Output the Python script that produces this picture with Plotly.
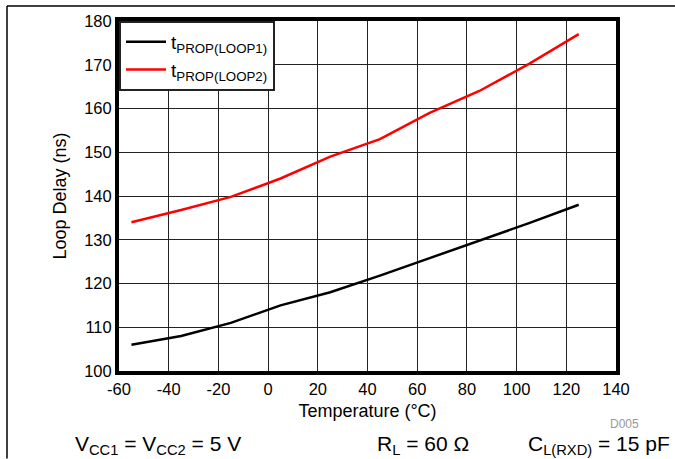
import plotly.graph_objects as go

temps = [-55, -35, -15, 5, 25, 45, 65, 85, 105, 125]
loop1 = [106, 108, 111, 115, 118, 121.8, 125.8, 129.8, 133.8, 138]
loop2 = [134, 136.8, 139.8, 144, 149, 153, 159, 164, 170.2, 177]

x_ticks = [-60, -40, -20, 0, 20, 40, 60, 80, 100, 120, 140]
y_ticks = [100, 110, 120, 130, 140, 150, 160, 170, 180]

W, H = 675, 459
L, R, T, B = 119, 59, 19, 88
pw, ph = W - L - R, H - T - B

def px(xp):
    return (xp - L) / pw

def py(yp):
    return 1 - (yp - T) / ph

font = "Liberation Sans, Arial, sans-serif"

fig = go.Figure()
fig.add_trace(go.Scatter(x=temps, y=loop1, mode="lines", name="t<sub>PROP(LOOP1)</sub>",
                         line=dict(color="black", width=2.5)))
fig.add_trace(go.Scatter(x=temps, y=loop2, mode="lines", name="t<sub>PROP(LOOP2)</sub>",
                         line=dict(color="#ff0000", width=2.5)))

fig.update_layout(
    width=W, height=H,
    margin=dict(l=L, r=R, t=T, b=B),
    paper_bgcolor="white", plot_bgcolor="white",
    font=dict(family=font, size=16, color="black"),
    showlegend=True,
    legend=dict(x=0, y=1, xanchor="left", yanchor="top",
                bgcolor="white", bordercolor="#222", borderwidth=2,
                font=dict(size=19), tracegroupgap=0,
                itemwidth=40),
    xaxis=dict(range=[-60, 140], tickvals=x_ticks, ticktext=[str(v) for v in x_ticks],
               showgrid=True, gridcolor="#222", gridwidth=1,
               showline=True, linecolor="black", linewidth=4, mirror=True,
               ticks="", zeroline=False,
               title=dict(text="Temperature (°C)", standoff=9, font=dict(size=18)),
               tickfont=dict(size=16.5)),
    yaxis=dict(range=[100, 180], tickvals=y_ticks, ticktext=[str(v) for v in y_ticks],
               showgrid=True, gridcolor="#222", gridwidth=1,
               showline=True, linecolor="black", linewidth=4, mirror=True,
               ticks="", zeroline=False,
               title=dict(text="Loop Delay (ns)", standoff=14, font=dict(size=18)),
               tickfont=dict(size=16.5)),
)

# outer frame lines (top and left)
fig.add_shape(type="line", xref="paper", yref="paper",
              x0=px(7), x1=px(675), y0=py(4), y1=py(4),
              line=dict(color="black", width=1.5))
fig.add_shape(type="line", xref="paper", yref="paper",
              x0=px(7), x1=px(7), y0=py(4), y1=py(459),
              line=dict(color="black", width=1.5))

fig.add_annotation(text="D005", xref="paper", yref="paper", x=px(641), y=py(424),
                   xanchor="right", yanchor="middle", showarrow=False,
                   font=dict(size=12, color="#999999"))
fig.add_annotation(text="V<sub>CC1</sub> = V<sub>CC2</sub> = 5 V", xref="paper", yref="paper",
                   x=px(73), y=py(445), xanchor="left", yanchor="middle", showarrow=False,
                   font=dict(size=21))
fig.add_annotation(text="R<sub>L</sub> = 60 Ω", xref="paper", yref="paper",
                   x=px(375), y=py(445), xanchor="left", yanchor="middle", showarrow=False,
                   font=dict(size=21))
fig.add_annotation(text="C<sub>L(RXD)</sub> = 15 pF", xref="paper", yref="paper",
                   x=px(672), y=py(445), xanchor="right", yanchor="middle", showarrow=False,
                   font=dict(size=21))

fig.write_html("out.html", config={"displayModeBar": False},
               post_script="document.body.style.margin='0';document.body.style.overflow='hidden';")
